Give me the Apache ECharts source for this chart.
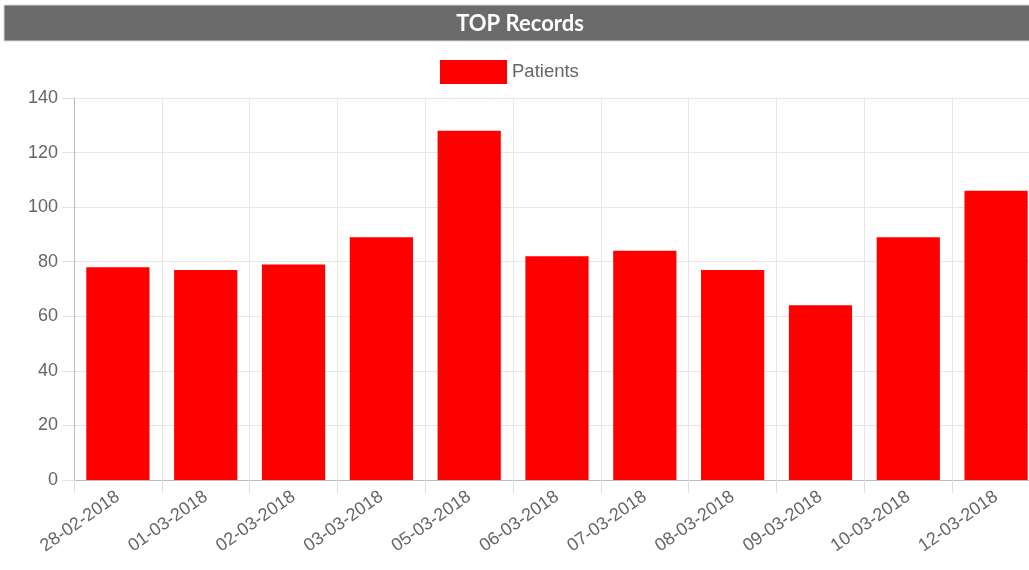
<!DOCTYPE html>
<html lang="en">
<head>
    <meta charset="utf-8">
    <title>TOP Records</title>
    <script src="https://cdn.jsdelivr.net/npm/echarts@6/dist/echarts.min.js"></script>
    <style>
        html, body { margin: 0; padding: 0; background: #fff; overflow: hidden; }
    </style>
</head>
<body>

<!-- the plot runs a bit past the right edge of the window, like the source screenshot -->
<div id="main" style="width: 1040px;height:570px;"></div>

<script>
    // data
    var dates = ['28-02-2018', '01-03-2018', '02-03-2018', '03-03-2018', '05-03-2018', '06-03-2018',
        '07-03-2018', '08-03-2018', '09-03-2018', '10-03-2018', '12-03-2018'];
    var patients = [78, 77, 79, 89, 128, 82, 84, 77, 64, 89, 106];
    var yTicks = [0, 20, 40, 60, 80, 100, 120, 140];

    var myChart = echarts.init(document.getElementById('main'));

    var option = {
        animation: false,
        title: {
            text: 'TOP Records',
            left: 'center',
            top: 8,
            textStyle: {
                color: '#fff',
                fontFamily: 'Lato',
                fontWeight: 'bold',
                fontSize: 22
            }
        },
        graphic: [{
            type: 'rect',
            z: -1,
            shape: {x: 4, y: 5, width: 1040, height: 36},
            style: {fill: '#6b6b6b', stroke: '#d8d8d8', lineWidth: 1}
        }],
        legend: {
            data: ['Patients'],
            top: 55,
            left: 435,
            icon: 'rect',
            itemWidth: 67,
            itemHeight: 24,
            itemGap: 8,
            textStyle: {color: '#666', fontSize: 18.5, fontFamily: 'Liberation Sans'}
        },
        grid: {
            left: 74,
            top: 98,
            bottom: 90,
            right: 0,
            containLabel: false
        },
        xAxis: {
            type: 'category',
            data: dates,
            axisLine: {lineStyle: {color: '#bbb'}},
            axisTick: {show: true, length: 13, interval: 0, lineStyle: {color: '#ddd'}},
            splitLine: {show: true, interval: 0, lineStyle: {color: '#e6e6e6'}},
            axisLabel: {
                interval: 0,
                rotate: 35,
                color: '#666',
                fontSize: 18,
                fontFamily: 'Liberation Sans',
                margin: 15
            }
        },
        yAxis: {
            type: 'value',
            min: yTicks[0],
            max: yTicks[yTicks.length - 1],
            interval: 20,
            axisLine: {show: true, lineStyle: {color: '#bbb'}},
            axisTick: {show: true, length: 12, lineStyle: {color: '#e0e0e0'}},
            splitLine: {lineStyle: {color: '#e6e6e6'}},
            axisLabel: {
                color: '#666',
                fontSize: 18,
                fontFamily: 'Liberation Sans',
                margin: 16
            }
        },
        series: [{
            name: 'Patients',
            type: 'bar',
            data: patients,
            barCategoryGap: '28%',
            itemStyle: {color: '#ff0000'}
        }]
    };

    myChart.setOption(option);
</script>
</body>
</html>
